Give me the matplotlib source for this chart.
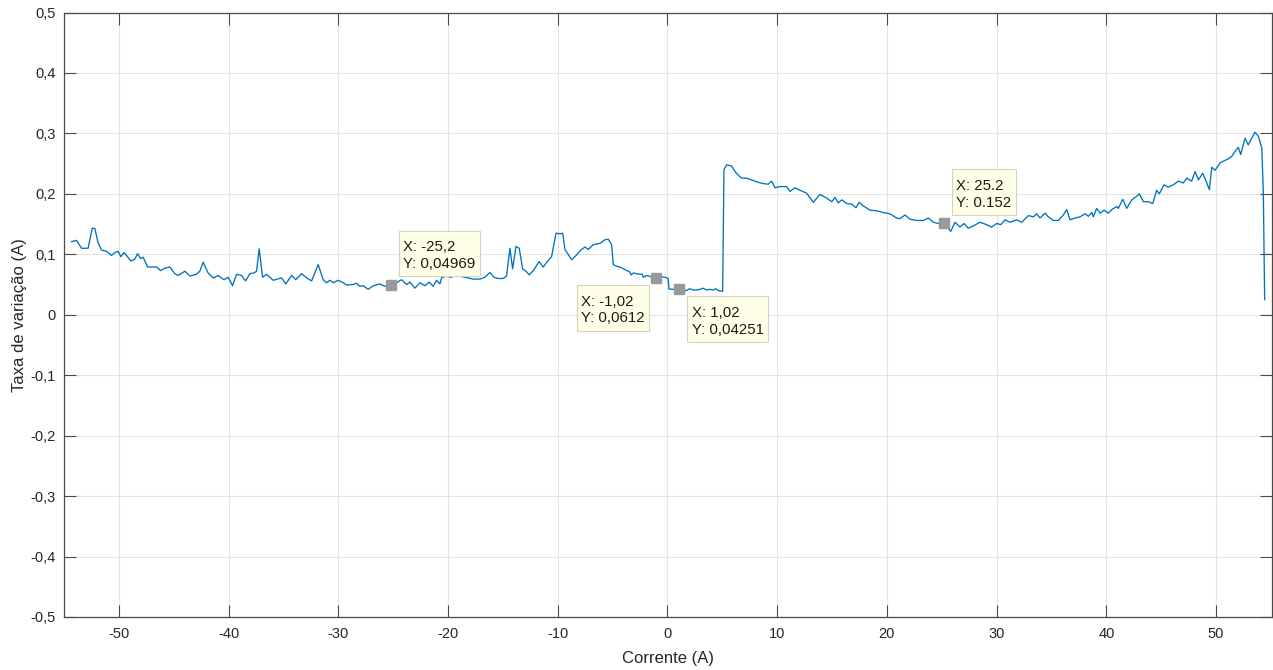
import matplotlib
matplotlib.use("Agg")
import matplotlib.pyplot as plt
from matplotlib.path import Path

plt.rcParams['font.family'] = ['Liberation Sans', 'DejaVu Sans']

# Measured rate of change versus current
corrente = [
    -54.31, -53.86, -53.40, -52.80, -52.43, -52.19, -51.89, -51.58, -51.12, -50.67,
    -50.36, -50.06, -49.82, -49.52, -48.91, -48.54, -48.30, -48.02, -47.78, -47.38,
    -46.56, -46.20, -45.81, -45.35, -44.90, -44.60, -43.98, -43.53, -42.92, -42.62,
    -42.32, -41.86, -41.40, -40.95, -40.43, -40.04, -39.64, -39.27, -38.82, -38.45,
    -38.06, -37.69, -37.45, -37.21, -36.90, -36.54, -35.93, -35.17, -34.78, -34.26,
    -33.87, -33.35, -32.89, -32.43, -31.83, -31.38, -31.07, -30.77, -30.46, -30.01,
    -29.55, -29.24, -28.64, -28.33, -28.03, -27.73, -27.27, -26.82, -26.21, -25.75,
    -25.20, -24.70, -24.23, -23.77, -23.47, -23.02, -22.56, -22.11, -21.71, -21.35,
    -21.04, -20.74, -20.58, -20.20, -19.70, -19.20, -18.70, -18.20, -17.70, -17.09,
    -16.64, -16.18, -15.82, -15.42, -14.97, -14.66, -14.36, -14.11, -13.81, -13.51,
    -13.20, -12.90, -12.60, -12.23, -11.69, -11.32, -10.87, -10.56, -10.16, -9.80,
    -9.55, -9.34, -8.73, -8.28, -7.91, -7.52, -7.22, -6.76, -6.15, -5.70,
    -5.40, -5.09, -4.94, -4.60, -4.33, -4.00, -3.72, -3.50, -3.30, -3.12,
    -2.80, -2.51, -2.30, -2.20, -1.90, -1.50, -1.02, -0.60, -0.23, 0.07,
    0.14, 0.53, 1.02, 1.40, 1.75, 2.00, 2.35, 2.70, 2.96, 3.20,
    3.57, 3.90, 4.18, 4.40, 4.63, 5.03, 5.15, 5.40, 5.85, 6.15,
    6.45, 6.76, 7.22, 7.82, 8.30, 8.73, 9.19, 9.50, 9.80, 10.26,
    10.87, 11.17, 11.62, 12.08, 12.69, 13.29, 13.90, 14.51, 14.97, 15.27,
    15.57, 15.88, 16.34, 16.79, 17.18, 17.48, 17.85, 18.46, 19.07, 19.67,
    20.28, 20.89, 21.19, 21.65, 22.11, 22.72, 23.32, 23.77, 24.23, 24.69,
    25.20, 25.82, 26.21, 26.66, 27.03, 27.42, 27.88, 28.49, 29.10, 29.55,
    30.01, 30.37, 30.77, 31.22, 31.83, 32.29, 32.89, 33.35, 33.65, 33.96,
    34.41, 34.71, 35.17, 35.63, 36.08, 36.39, 36.69, 37.15, 37.60, 38.06,
    38.36, 38.67, 38.82, 39.12, 39.43, 39.79, 40.18, 40.49, 40.95, 41.10,
    41.50, 41.86, 42.32, 42.77, 43.01, 43.37, 43.83, 44.23, 44.59, 44.83,
    45.26, 45.65, 46.11, 46.56, 47.02, 47.33, 47.78, 48.09, 48.39, 48.79,
    49.09, 49.39, 49.61, 49.91, 50.36, 50.67, 51.12, 51.43, 51.73, 52.03,
    52.25, 52.64, 52.94, 53.25, 53.55, 53.86, 54.17, 54.31, 54.43,
]

taxa = [
    0.121, 0.123, 0.110, 0.110, 0.143, 0.143, 0.119, 0.107, 0.105, 0.098,
    0.103, 0.105, 0.096, 0.103, 0.089, 0.092, 0.101, 0.093, 0.095, 0.079,
    0.079, 0.073, 0.077, 0.079, 0.068, 0.065, 0.072, 0.064, 0.067, 0.072,
    0.087, 0.069, 0.061, 0.065, 0.058, 0.062, 0.048, 0.067, 0.065, 0.056,
    0.068, 0.069, 0.072, 0.109, 0.062, 0.067, 0.057, 0.061, 0.051, 0.065,
    0.058, 0.068, 0.061, 0.056, 0.083, 0.058, 0.053, 0.057, 0.053, 0.057,
    0.053, 0.049, 0.050, 0.052, 0.047, 0.048, 0.042, 0.048, 0.051, 0.047,
    0.04969, 0.053, 0.058, 0.050, 0.054, 0.044, 0.053, 0.048, 0.054, 0.047,
    0.057, 0.051, 0.061, 0.064, 0.062, 0.066, 0.063, 0.061, 0.059, 0.059,
    0.062, 0.070, 0.062, 0.060, 0.060, 0.064, 0.110, 0.076, 0.113, 0.110,
    0.076, 0.072, 0.066, 0.073, 0.088, 0.079, 0.090, 0.096, 0.135, 0.134,
    0.135, 0.108, 0.091, 0.099, 0.107, 0.112, 0.108, 0.116, 0.118, 0.124,
    0.125, 0.116, 0.083, 0.080, 0.079, 0.076, 0.073, 0.072, 0.066, 0.069,
    0.068, 0.067, 0.067, 0.062, 0.065, 0.063, 0.0612, 0.063, 0.062, 0.060,
    0.0425, 0.042, 0.04251, 0.040, 0.040, 0.043, 0.041, 0.041, 0.042, 0.044,
    0.041, 0.042, 0.041, 0.043, 0.040, 0.0386, 0.240, 0.248, 0.246, 0.237,
    0.231, 0.226, 0.226, 0.222, 0.219, 0.217, 0.216, 0.221, 0.210, 0.212,
    0.212, 0.204, 0.210, 0.206, 0.201, 0.186, 0.199, 0.193, 0.187, 0.194,
    0.185, 0.190, 0.184, 0.183, 0.177, 0.186, 0.180, 0.173, 0.172, 0.169,
    0.167, 0.160, 0.159, 0.165, 0.158, 0.156, 0.156, 0.160, 0.153, 0.151,
    0.152, 0.138, 0.153, 0.145, 0.151, 0.143, 0.147, 0.153, 0.149, 0.145,
    0.151, 0.149, 0.157, 0.153, 0.157, 0.153, 0.164, 0.162, 0.167, 0.160,
    0.168, 0.162, 0.156, 0.156, 0.165, 0.174, 0.157, 0.160, 0.162, 0.167,
    0.163, 0.169, 0.162, 0.176, 0.168, 0.173, 0.168, 0.174, 0.179, 0.176,
    0.191, 0.176, 0.190, 0.196, 0.200, 0.187, 0.187, 0.184, 0.206, 0.200,
    0.215, 0.211, 0.215, 0.221, 0.218, 0.226, 0.221, 0.237, 0.223, 0.234,
    0.221, 0.207, 0.244, 0.239, 0.251, 0.254, 0.258, 0.262, 0.270, 0.277,
    0.265, 0.292, 0.281, 0.292, 0.302, 0.295, 0.276, 0.201, 0.025,
]

# Data tips
tip_x = [-25.2, -1.02, 1.02, 25.2]
tip_y = [0.04969, 0.0612, 0.04251, 0.152]
tip_text = ["X: -25,2\nY: 0,04969", "X: -1,02\nY: 0,0612",
            "X: 1,02\nY: 0,04251", "X: 25.2\nY: 0.152"]

x_ticks = [-50, -40, -30, -20, -10, 0, 10, 20, 30, 40, 50]
y_ticks = [-0.5, -0.4, -0.3, -0.2, -0.1, 0.0, 0.1, 0.2, 0.3, 0.4, 0.5]
y_tick_labels = ["-0,5", "-0,4", "-0,3", "-0,2", "-0,1", "0",
                 "0,1", "0,2", "0,3", "0,4", "0,5"]

W, H = 1273, 670
fig = plt.figure(figsize=(W / 100, H / 100), dpi=100)
ax = fig.add_axes([64 / W, 1 - 617 / H, (1272 - 64) / W, (617 - 12.5) / H])

ax.plot(corrente, taxa, color='#0072BD', lw=0.95, zorder=3)

ax.set_xlim(-55, 55.1)
ax.set_ylim(-0.5, 0.5)
ax.set_xticks(x_ticks)
ax.set_xticklabels([str(t) for t in x_ticks])
ax.set_yticks(y_ticks)
ax.set_yticklabels(y_tick_labels)

ax.grid(True, color='#E4E4E4', lw=0.8)
ax.set_axisbelow(True)
ax.tick_params(direction='in', length=8.5, width=0.8, top=True, right=True,
               labelsize=10.5, color='#4a4a4a', labelcolor='#262626')
ax.tick_params(axis='x', pad=7)
ax.tick_params(axis='y', pad=6)
for s in ax.spines.values():
    s.set_color('#4a4a4a')
    s.set_linewidth(0.9)

ax.set_xlabel('Corrente (A)', fontsize=12, color='#262626')
ax.xaxis.set_label_coords(0.5, -0.056)
ax.set_ylabel('Taxa de variação (A)', fontsize=12, color='#262626')
ax.yaxis.set_label_coords(-0.031, 0.5)


def tip_box(x0, y0, width, height, mutation_size):
    """Rectangle with a wider margin above the text than below it."""
    left, right = x0 - 4.3, x0 + width + 4.3
    bottom, top = y0 - 5.3, y0 + height + 9.5
    return Path([(left, bottom), (right, bottom), (right, top),
                 (left, top), (left, bottom)], closed=True)


# Data tip markers and boxes
ax.plot(tip_x, tip_y, linestyle='none', marker='s', ms=6.7,
        color='#999999', zorder=5)

placements = [((12.3, 13.6), 'left', 'bottom'),
              ((-11.7, -16.8), 'right', 'top'),
              ((13.0, -16.9), 'left', 'top'),
              ((12.3, 13.3), 'left', 'bottom')]
for x, y, txt, (off, ha, va) in zip(tip_x, tip_y, tip_text, placements):
    ax.annotate(txt, xy=(x, y), xytext=off, textcoords='offset pixels',
                ha=ha, va=va, multialignment='left',
                fontsize=10.8, linespacing=1.25, color='#1a1a1a',
                bbox=dict(boxstyle=tip_box, fc='#FFFFE8',
                          ec='#D4D4BE', lw=0.8),
                zorder=6)

fig.savefig('out.png', dpi=100)
